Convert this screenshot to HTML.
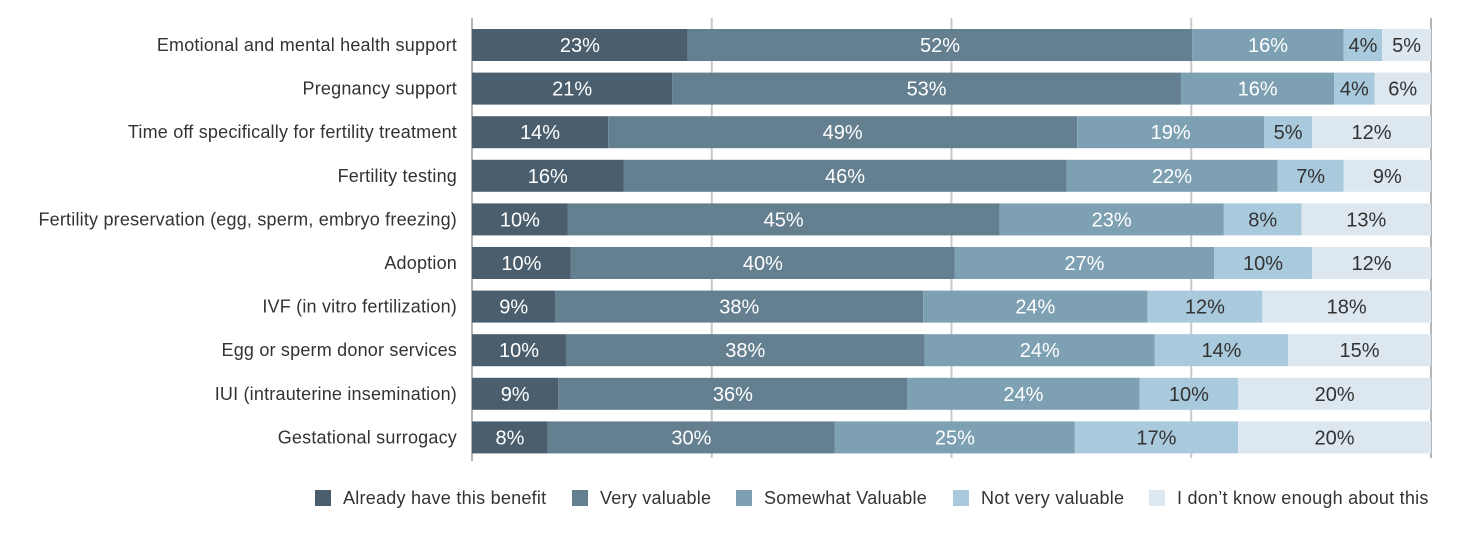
<!DOCTYPE html>
<html><head><meta charset="utf-8"><style>
body{margin:0;background:#fff;}
svg{display:block;font-family:"Liberation Sans",sans-serif;}
</style></head><body>
<svg id="chart" width="1458" height="542"></svg>
<script>
const categories=["Emotional and mental health support","Pregnancy support","Time off specifically for fertility treatment","Fertility testing","Fertility preservation (egg, sperm, embryo freezing)","Adoption","IVF (in vitro fertilization)","Egg or sperm donor services","IUI (intrauterine insemination)","Gestational surrogacy"];
const seriesNames=["Already have this benefit","Very valuable","Somewhat Valuable","Not very valuable","I don’t know enough about this"];
const already=[22.5,20.9,14.2,15.8,10.0,10.3,8.7,9.8,9.0,7.9];
const veryValuable=[52.6,53.1,48.9,46.2,45.0,40.0,38.4,37.4,36.4,29.9];
const somewhat=[15.8,16.0,19.5,22.0,23.4,27.0,23.4,24.0,24.2,25.0];
const notVery=[4.0,4.2,5.0,6.9,8.1,10.2,12.0,13.9,10.3,17.0];
const dontKnow=[5.1,5.9,12.4,9.1,13.5,12.4,17.6,14.9,20.1,20.1];
const labelsAlready=[23,21,14,16,10,10,9,10,9,8];
const labelsVery=[52,53,49,46,45,40,38,38,36,30];
const labelsSomewhat=[16,16,19,22,23,27,24,24,24,25];
const labelsNotVery=[4,4,5,7,8,10,12,14,10,17];
const labelsDontKnow=[5,6,12,9,13,12,18,15,20,20];
const gridTicks=[0,25,50,75,100];

const series=[already,veryValuable,somewhat,notVery,dontKnow];
const labels=[labelsAlready,labelsVery,labelsSomewhat,labelsNotVery,labelsDontKnow];
const colors=["#4a5e6d","#647f8f","#7ea0b3","#a9c9dc","#dce7ef"];
const textColors=["#fff","#fff","#fff","#333","#333"];
const NS="http://www.w3.org/2000/svg";
const svg=document.getElementById('chart');
const x0=472,x1=1431,top0=29,rowStep=43.6,barH=32;
const xs=v=>x0+v/100*(x1-x0);
const yc=i=>top0+i*rowStep;
function mk(tag,attrs){const e=document.createElementNS(NS,tag);for(const k in attrs)e.setAttribute(k,attrs[k]);svg.appendChild(e);return e;}
gridTicks.forEach(t=>{
  const l=mk('line',{x1:xs(t),x2:xs(t),y1:18,y2:t===0?461:458,stroke:t===0||t===100?"#b5b5b5":"#c8c8c8","stroke-width":2});
  
  
});
categories.forEach((c,i)=>{
  const total=series.reduce((s,a)=>s+a[i],0);
  let acc=0;
  const t=mk('text',{x:457,y:yc(i)+barH/2+6,"text-anchor":"end","font-size":18,"letter-spacing":0.2,fill:"#333"});
  t.textContent=c;
  
  
  series.forEach((arr,s)=>{
    const v=arr[i]/total*100;
    const r=mk('rect',{x:xs(acc),y:yc(i),width:xs(acc+v)-xs(acc),height:barH,fill:colors[s]});
    
    
    const lt=mk('text',{x:(xs(acc)+xs(acc+v))/2,y:yc(i)+barH/2+7,"text-anchor":"middle","font-size":20,fill:textColors[s]});
    lt.textContent=labels[s][i]+"%";
    
    
    acc+=v;
  });
});
const legX=[315,572,736,953,1149];
seriesNames.forEach((n,s)=>{
  const r=mk('rect',{x:legX[s],y:490,width:16,height:16,fill:colors[s]});
  
  
  const t=mk('text',{x:legX[s]+28,y:504,"font-size":18,"letter-spacing":0.25,fill:"#333"});
  t.textContent=n;
  
  
});
</script>
</body></html>
